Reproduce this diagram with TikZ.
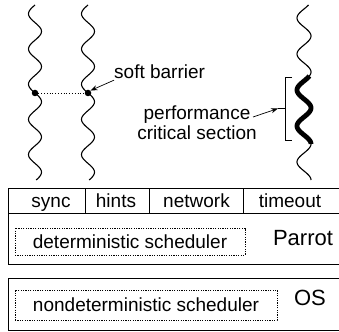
\documentclass[tikz,border=0pt]{standalone}
\usepackage{fontspec}
\setmainfont{Liberation Sans}
\usetikzlibrary{arrows.meta}
\begin{document}
\begin{tikzpicture}[x=1pt,y=-1pt,
  thread/.style={line width=1.1pt},
  thickthread/.style={line width=4.8pt},
  lbl/.style={font=\fontsize{19}{20}\selectfont, inner sep=0pt},
  big/.style={font=\fontsize{22}{25}\selectfont, inner sep=0pt, anchor=base},
  cell/.style={font=\fontsize{19}{22}\selectfont, inner sep=0pt, anchor=base},
  schedbox/.style={draw, line width=0.7pt, dash pattern=on 1.2pt off 1.2pt, font=\fontsize{19}{22}\selectfont, inner sep=0pt},
  layer/.style={draw, line width=0.9pt},
  pointer/.style={line width=0.7pt, -{Stealth[length=7pt,width=5pt]}},
  dot/.style={circle, fill, inner sep=0pt, minimum size=6.5pt}
]
\useasboundingbox (0,0) rectangle (339,331);
% threads
\draw[thread] plot[domain=5:180, samples=160, smooth] ({35-6.5*sin((\x-5)/35.2*360)},\x);
\draw[thread] plot[domain=5:180, samples=160, smooth] ({88-6.5*sin((\x-5)/35.2*360)},\x);
\draw[thread] plot[domain=5:78, samples=80, smooth] ({304-7*sin((\x-81)/36*360)},\x);
\draw[thread] plot[domain=142:180, samples=50, smooth] ({304-7*sin((\x-81)/36*360)},\x);
\draw[thickthread] plot[domain=76:144, samples=80, smooth] ({304-7*sin((\x-81)/36*360)},\x);
% soft barrier
\node[dot] (d1) at (35,93) {};
\node[dot] (d2) at (88,93) {};
\draw[line width=0.8pt, dotted] (d1) -- (d2);
\node[lbl, anchor=west] (sb) at (114,72) {soft barrier};
\draw[pointer] (sb.south west) ++(0,1) coordinate (sbs) -- (d2.north east);
% critical section bracket
\coordinate (bt) at (285,77);
\coordinate (bb) at (285,140);
\coordinate (bm) at (285,108.5);
\draw[line width=0.8pt] (292,77) -- (bt) -- (bb) -- (292,140);
\draw[line width=0.8pt] (bm) -- ++(-7,0) coordinate (tick);
\node[lbl, align=center] (pc) at (197,123) {performance\\critical section};
\draw[pointer] (253,117) coordinate (ps) -- (tick);
% Parrot layer
\draw[layer] (345,188) -- (8,188) -- (8,264) -- (345,264);
\draw[layer] (8,213) -- (345,213);
\draw[layer] (85,188) -- (85,213);
\draw[layer] (149,188) -- (149,213);
\draw[layer] (243,188) -- (243,213);
\node[cell] (sync) at (51,207) {sync};
\node[cell] (hints) at (116,207) {hints};
\node[cell] (net) at (196.5,207) {network};
\node[cell] (tmo) at (290,207) {timeout};
\node[schedbox, minimum width=230pt, minimum height=27pt] (ds) at (130,241.5) {deterministic scheduler};
\node[big] (parrot) at (303,245) {Parrot};
% OS layer
\draw[layer] (345,278) -- (8,278) -- (8,330) -- (345,330);
\node[schedbox, minimum width=262pt, minimum height=30pt] (nds) at (146,305) {nondeterministic scheduler};
\node[big] (os) at (310,305) {OS};
\end{tikzpicture}
\end{document}
